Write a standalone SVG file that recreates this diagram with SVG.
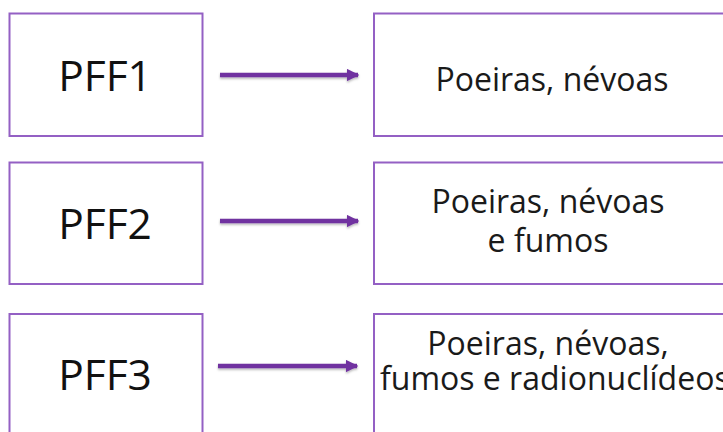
<svg xmlns="http://www.w3.org/2000/svg" width="723" height="432" viewBox="0 0 723 432">
<defs>
<style>
.box{fill:#ffffff;stroke:#9460c4;stroke-width:2}
.lbl{font-family:"Open Sans","Liberation Sans",sans-serif;font-size:42.5px;fill:#111;text-anchor:middle}
.desc{font-family:"Open Sans","Liberation Sans",sans-serif;font-size:32px;fill:#1a1a1a;text-anchor:middle}
.arr{stroke:#7030a0;stroke-width:4.5;fill:none;marker-end:url(#ah)}
</style>
<marker id="ah" viewBox="0 0 10 10" refX="9" refY="5" markerWidth="2.8" markerHeight="2.8" orient="auto" markerUnits="strokeWidth">
<path d="M0,0 L10,5 L0,10 z" fill="#7030a0"/>
</marker>
<filter id="sh" x="-10%" y="-100%" width="120%" height="300%">
<feDropShadow dx="0" dy="1.5" stdDeviation="1.2" flood-color="#000" flood-opacity="0.3"/>
</filter>
</defs>
<rect width="723" height="432" fill="#ffffff"/>
<g id="pff1">
<rect class="box" x="9.5" y="13.5" width="193" height="122.5"/>
<text class="lbl" x="105" y="91">PFF1</text>
</g>
<g id="desc1">
<rect class="box" x="374" y="13.5" width="357" height="122.5"/>
<text class="desc" x="552" y="91">Poeiras, névoas</text>
</g>
<g id="pff2">
<rect class="box" x="9.5" y="162.5" width="193" height="121.5"/>
<text class="lbl" x="105" y="239">PFF2</text>
</g>
<g id="desc2">
<rect class="box" x="374" y="162.5" width="357" height="121.5"/>
<text class="desc"><tspan x="548" y="213">Poeiras, névoas</tspan><tspan x="548" y="252">e fumos</tspan></text>
</g>
<g id="pff3">
<rect class="box" x="9.5" y="314" width="193" height="130"/>
<text class="lbl" x="105" y="390">PFF3</text>
</g>
<g id="desc3">
<rect class="box" x="374" y="314" width="357" height="130"/>
<text class="desc"><tspan x="548" y="355">Poeiras, névoas,</tspan><tspan x="380" y="390" text-anchor="start">fumos e radionuclídeos</tspan></text>
</g>
<g id="connectors" filter="url(#sh)">
<line class="arr" x1="220" y1="75" x2="358" y2="75"/>
<line class="arr" x1="220" y1="221" x2="358" y2="221"/>
<line class="arr" x1="218" y1="366" x2="357" y2="366"/>
</g>
</svg>
